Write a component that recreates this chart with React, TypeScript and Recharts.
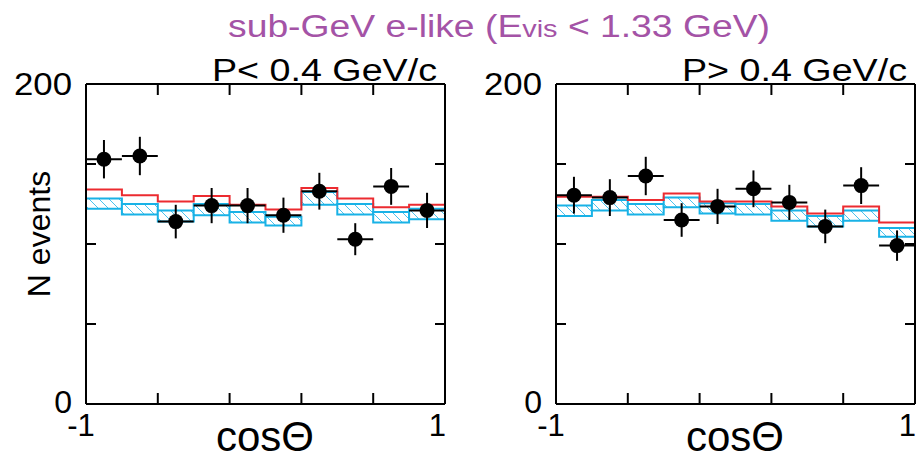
import React from 'react'
import { ComposedChart, Line, Scatter, ErrorBar, XAxis, YAxis, ReferenceArea } from 'recharts'

// bin edges / centres in cos(theta)
const edges = [-1, -0.8, -0.6, -0.4, -0.2, 0, 0.2, 0.4, 0.6, 0.8, 1]
const centers = [-0.9, -0.7, -0.5, -0.3, -0.1, 0.1, 0.3, 0.5, 0.7, 0.9]
const xTicks = [-1, -0.6, -0.2, 0.2, 0.6, 1]
const yTicks = [0, 50, 100, 150, 200]

// P < 0.4 GeV/c
const lowData = [153, 155, 114, 124, 124, 118, 133, 103, 136, 121]
const lowErr = [12, 12, 10.5, 11, 11, 11, 11.5, 10, 11.5, 11]
const lowRed = [134, 130.5, 126.5, 130, 124.5, 121.5, 135, 128.5, 123, 124.5]
const lowBandHi = [128.5, 125, 121, 125, 120, 117, 132.5, 125, 120, 122]
const lowBandLo = [122, 118.5, 114, 118, 113.5, 111.5, 124.5, 118.5, 113.5, 115.5]

// P > 0.4 GeV/c
const highData = [130.5, 129, 142.5, 115, 123.5, 134.5, 126, 111, 136.5, 99]
const highErr = [11.5, 11.5, 12, 10.5, 11, 11.5, 11, 10.5, 11.5, 9.5]
const highRed = [129.5, 129.5, 127.5, 131.5, 126.5, 126.5, 123.5, 119, 123.5, 113.5]
const highBandHi = [124, 127.5, 125, 129, 125.5, 125, 121, 117.5, 121, 110]
const highBandLo = [117.5, 121, 118.5, 123, 119, 118.5, 114.5, 111, 114.5, 104.5]

const FONT = '"Liberation Sans", Arial, Helvetica, sans-serif'
const RED = '#ec2b30'
const CYAN = '#19b2e6'

const BottomTick = (props: any) => {
  const { x, y, payload } = props
  const v = payload.value
  return (
    <g>
      {v > -1 && v < 1 && <line x1={x} y1={y} x2={x} y2={y - 11} stroke="#000" strokeWidth={2} />}
      {v === -1 && (
        <text x={x - 5} y={y + 32} textAnchor="middle" fontFamily={FONT} fontSize={31} fill="#000">-1</text>
      )}
      {v === 1 && (
        <text x={x + 1} y={y + 32} textAnchor="end" fontFamily={FONT} fontSize={31} fill="#000">1</text>
      )}
    </g>
  )
}

const TopTick = (props: any) => {
  const { x, y, payload } = props
  const v = payload.value
  if (v <= -1 || v >= 1) return <g />
  return <line x1={x} y1={y} x2={x} y2={y + 11} stroke="#000" strokeWidth={2} />
}

const LeftTick = (props: any) => {
  const { x, y, payload } = props
  const v = payload.value
  return (
    <g>
      {v > 0 && v < 200 && <line x1={x} y1={y} x2={x + 10} y2={y} stroke="#000" strokeWidth={2} />}
      {v === 200 && (
        <text x={x - 14} y={y + 11} textAnchor="end" fontFamily={FONT} fontSize={32} fill="#000"
          textLength={58} lengthAdjust="spacingAndGlyphs">
          {v}
        </text>
      )}
      {v === 0 && (
        <text x={x - 14} y={y + 9} textAnchor="end" fontFamily={FONT} fontSize={32} fill="#000">
          {v}
        </text>
      )}
    </g>
  )
}

const RightTick = (props: any) => {
  const { x, y, payload } = props
  const v = payload.value
  if (v <= 0 || v >= 200) return <g />
  return <line x1={x} y1={y} x2={x - 10} y2={y} stroke="#000" strokeWidth={2} />
}

const Dot = (props: any) => <circle cx={props.cx} cy={props.cy} r={7.5} fill="#000" />

interface PanelProps {
  data: number[]
  err: number[]
  red: number[]
  bandHi: number[]
  bandLo: number[]
  left: number
  width: number
  margin: { top: number; right: number; bottom: number; left: number }
}

function Panel({ data, err, red, bandHi, bandLo, left, width, margin }: PanelProps) {
  // step line needs one row per bin edge, last edge repeats last bin
  const stepRows = edges.map((x, i) => ({ x, red: red[Math.min(i, red.length - 1)] }))
  const points = centers.map((x, i) => ({
    x,
    y: data[i],
    err: err[i],
    xerr: (edges[i + 1] - edges[i]) / 2,
  }))

  const axisLine = { stroke: '#000', strokeWidth: 2 }

  return (
    <div style={{ position: 'absolute', left, top: 0 }}>
      <ComposedChart width={width} height={460} data={stepRows} margin={margin}>
        <XAxis
          dataKey="x"
          type="number"
          domain={[-1, 1]}
          ticks={xTicks}
          interval={0}
          height={1}
          tickSize={0}
          tickMargin={0}
          axisLine={axisLine}
          tick={<BottomTick />}
          allowDataOverflow
        />
        <XAxis
          xAxisId="top"
          orientation="top"
          dataKey="x"
          type="number"
          domain={[-1, 1]}
          ticks={xTicks}
          interval={0}
          height={1}
          tickSize={0}
          tickMargin={0}
          axisLine={axisLine}
          tick={<TopTick />}
          allowDataOverflow
        />
        <YAxis
          type="number"
          domain={[0, 200]}
          ticks={yTicks}
          interval={0}
          width={1}
          tickSize={0}
          tickMargin={0}
          axisLine={axisLine}
          tick={<LeftTick />}
          allowDataOverflow
        />
        <YAxis
          yAxisId="right"
          orientation="right"
          type="number"
          domain={[0, 200]}
          ticks={yTicks}
          interval={0}
          width={1}
          tickSize={0}
          tickMargin={0}
          axisLine={axisLine}
          tick={<RightTick />}
          allowDataOverflow
        />

        {/* MC band, one box per bin */}
        {centers.map((_, i) => (
          <ReferenceArea
            key={i}
            x1={edges[i]}
            x2={edges[i + 1]}
            y1={bandLo[i]}
            y2={bandHi[i]}
            fill="url(#hatch)"
            fillOpacity={1}
            stroke={CYAN}
            strokeWidth={2}
          />
        ))}

        <Line
          type="stepAfter"
          dataKey="red"
          stroke={RED}
          strokeWidth={2}
          dot={false}
          isAnimationActive={false}
        />

        <Scatter data={points} dataKey="y" shape={<Dot />} isAnimationActive={false}>
          <ErrorBar dataKey="err" direction="y" width={0} stroke="#000" strokeWidth={2} />
          <ErrorBar dataKey="xerr" direction="x" width={0} stroke="#000" strokeWidth={2} />
        </Scatter>
      </ComposedChart>
    </div>
  )
}

export default function App() {
  return (
    <div style={{ position: 'absolute', left: 0, top: 0, width: 917, height: 460, background: '#fff' }}>
      <svg width={0} height={0} style={{ position: 'absolute' }}>
        <defs>
          <pattern id="hatch" patternUnits="userSpaceOnUse" width={10} height={10}>
            <rect width={10} height={10} fill="#fff" />
            <path d="M0,0 L10,10 M-2,8 L2,12 M8,-2 L12,2" stroke="#4cc3ee" strokeWidth={1} />
          </pattern>
        </defs>
      </svg>

      <Panel
        data={lowData}
        err={lowErr}
        red={lowRed}
        bandHi={lowBandHi}
        bandLo={lowBandLo}
        left={0}
        width={460}
        margin={{ top: 83, left: 85, right: 14, bottom: 55 }}
      />
      <Panel
        data={highData}
        err={highErr}
        red={highRed}
        bandHi={highBandHi}
        bandLo={highBandLo}
        left={460}
        width={457}
        margin={{ top: 83, left: 95, right: 1, bottom: 55 }}
      />

      <svg
        width={917}
        height={460}
        style={{ position: 'absolute', left: 0, top: 0, pointerEvents: 'none' }}
        fontFamily={FONT}
      >
        <text x={499} y={37} textAnchor="middle" fontSize={31} fill="#a453a6" textLength={542} lengthAdjust="spacingAndGlyphs">
          sub-GeV e-like (E<tspan fontSize={24}>vis</tspan> &lt; 1.33 GeV)
        </text>
        <text x={212} y={81} fontSize={31} fill="#000" textLength={225} lengthAdjust="spacingAndGlyphs">
          P&lt; 0.4 GeV/c
        </text>
        <text x={682} y={81} fontSize={31} fill="#000" textLength={225} lengthAdjust="spacingAndGlyphs">
          P&gt; 0.4 GeV/c
        </text>
        <text
          transform="translate(50,234) rotate(-90)"
          textAnchor="middle"
          fontSize={32}
          fill="#000"
        >
          N events
        </text>
        <text x={265} y={451} textAnchor="middle" fontSize={42} fill="#000">
          cosΘ
        </text>
        <text x={735} y={451} textAnchor="middle" fontSize={42} fill="#000">
          cosΘ
        </text>
      </svg>
    </div>
  )
}
